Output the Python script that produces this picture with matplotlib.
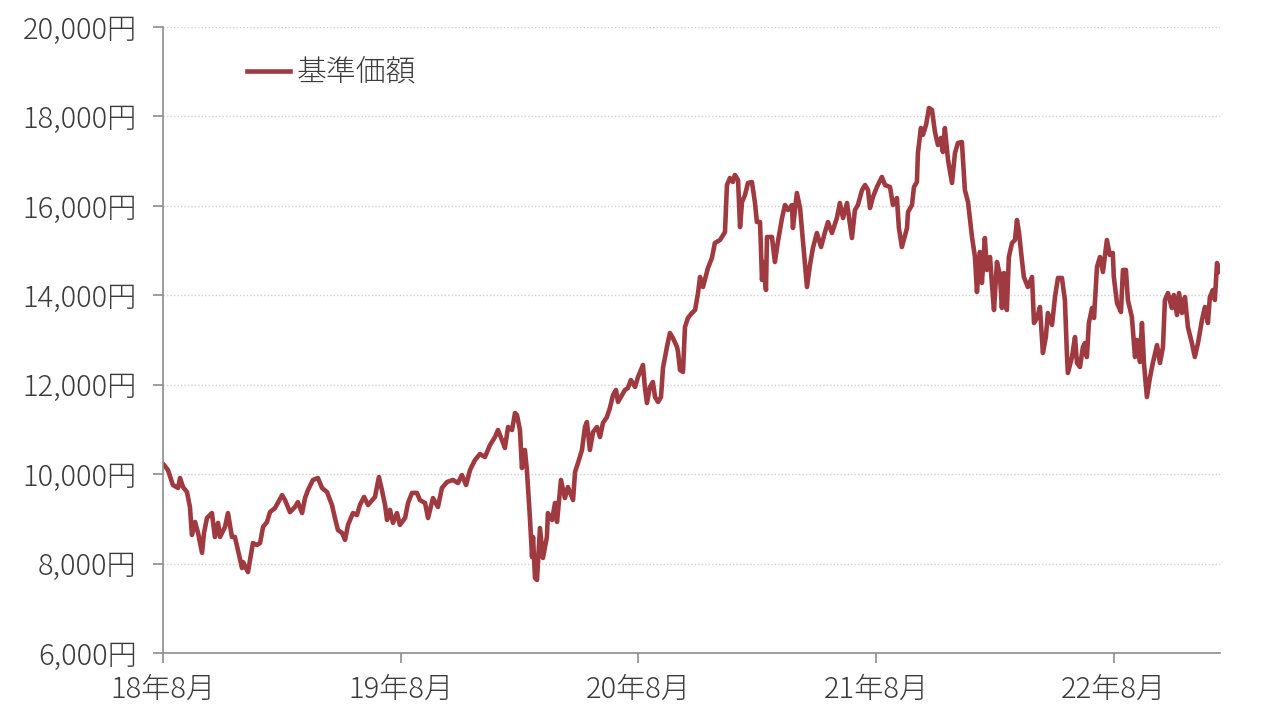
import matplotlib
matplotlib.use("Agg")
import matplotlib.pyplot as plt
from matplotlib.ticker import FuncFormatter

plt.rcParams['font.family'] = ['Noto Sans CJK JP', 'DejaVu Sans']
plt.rcParams['font.weight'] = 'light'

# months elapsed since 2018-08
months = [
    0.05, 0.25, 0.50, 0.76, 0.86, 1.01, 1.21, 1.36, 1.46, 1.62, 1.77, 1.97, 2.07, 2.22, 2.47,
    2.62, 2.78, 2.88, 3.13, 3.28, 3.48, 3.63, 3.99, 4.04, 4.29, 4.54, 4.74, 4.90, 5.05, 5.25,
    5.40, 5.65, 6.01, 6.16, 6.41, 6.66, 6.81, 7.02, 7.17, 7.32, 7.57, 7.82, 8.03, 8.28, 8.53,
    8.68, 8.83, 9.04, 9.19, 9.34, 9.59, 9.79, 9.94, 10.15, 10.35, 10.70, 10.90, 11.05, 11.21,
    11.31, 11.46, 11.61, 11.81, 11.96, 12.22, 12.37, 12.57, 12.82, 12.97, 13.23, 13.38, 13.63,
    13.88, 14.08, 14.34, 14.64, 14.89, 15.09, 15.30, 15.50, 15.75, 16.00, 16.25, 16.51, 16.76,
    16.91, 17.11, 17.26, 17.42, 17.62, 17.77, 17.87, 18.02, 18.12, 18.27, 18.37, 18.53, 18.63,
    18.68, 18.78, 18.88, 19.03, 19.18, 19.38, 19.43, 19.64, 19.79, 19.89, 20.09, 20.29, 20.44,
    20.70, 20.80, 20.95, 21.15, 21.30, 21.40, 21.55, 21.71, 21.91, 22.06, 22.21, 22.41, 22.56,
    22.72, 22.87, 22.97, 23.17, 23.32, 23.47, 23.62, 23.83, 23.98, 24.23, 24.33, 24.43, 24.58,
    24.73, 24.84, 24.99, 25.14, 25.24, 25.44, 25.59, 25.74, 25.95, 26.00, 26.10, 26.25, 26.35,
    26.50, 26.70, 26.86, 27.01, 27.11, 27.26, 27.51, 27.71, 27.86, 28.12, 28.37, 28.47, 28.62,
    28.77, 28.87, 29.03, 29.13, 29.23, 29.38, 29.53, 29.73, 29.88, 29.98, 30.14, 30.24, 30.29,
    30.44, 30.49, 30.74, 30.89, 31.04, 31.25, 31.40, 31.55, 31.75, 31.80, 32.00, 32.16, 32.31,
    32.51, 32.66, 32.81, 33.01, 33.22, 33.42, 33.57, 33.77, 34.02, 34.17, 34.33, 34.53, 34.78,
    34.93, 35.08, 35.29, 35.44, 35.59, 35.69, 35.84, 36.04, 36.29, 36.45, 36.70, 36.85, 37.05,
    37.15, 37.30, 37.56, 37.61, 37.81, 37.91, 38.06, 38.11, 38.26, 38.36, 38.52, 38.67, 38.82,
    38.97, 39.12, 39.27, 39.37, 39.47, 39.63, 39.83, 39.98, 40.13, 40.33, 40.48, 40.64, 40.84,
    40.99, 41.09, 41.24, 41.34, 41.49, 41.59, 41.75, 41.85, 41.95, 42.10, 42.25, 42.35, 42.45,
    42.60, 42.70, 42.86, 43.01, 43.11, 43.21, 43.36, 43.46, 43.66, 43.87, 43.97, 44.12, 44.27,
    44.42, 44.57, 44.67, 44.88, 45.03, 45.18, 45.38, 45.53, 45.63, 45.68, 45.89, 46.04, 46.14,
    46.29, 46.44, 46.54, 46.64, 46.74, 46.90, 47.00, 47.15, 47.30, 47.45, 47.65, 47.80, 47.95,
    48.00, 48.16, 48.36, 48.46, 48.61, 48.71, 48.91, 49.07, 49.17, 49.32, 49.42, 49.52, 49.67,
    49.82, 49.97, 50.18, 50.33, 50.48, 50.58, 50.73, 50.93, 51.03, 51.19, 51.29, 51.44, 51.59,
    51.74, 51.94, 52.09, 52.25, 52.45, 52.60, 52.75, 52.85, 53.00, 53.10, 53.21, 53.30,
]

# 基準価額 (円)
nav = [
    10205, 10093, 9757, 9690, 9914, 9713, 9600, 9265, 8640, 8930, 8685, 8240, 8685, 9020, 9130,
    8595, 8910, 8595, 8820, 9130, 8595, 8595, 7900, 8035, 7810, 8460, 8415, 8460, 8820, 8930,
    9150, 9240, 9530, 9420, 9150, 9265, 9375, 9130, 9465, 9645, 9870, 9914, 9690, 9600, 9310,
    9020, 8750, 8685, 8530, 8865, 9130, 9085, 9310, 9490, 9310, 9490, 9935, 9645, 9310,
    8975, 9200, 8910, 9130, 8865, 9020, 9355, 9580, 9580, 9420, 9355, 9020, 9465,
    9265, 9690, 9825, 9870, 9800, 9980, 9757, 10093, 10317, 10450, 10383, 10652, 10830,
    10987, 10764, 10585, 11054, 10987, 11367, 11323, 10987, 10137, 10540, 10093, 8975, 8147,
    8595, 7677, 7632, 8795, 8125, 8595, 9130, 8975, 9355, 8930, 9870, 9465, 9713,
    9420, 10048, 10250, 10540, 11054, 11166, 10540, 10943, 11054, 10830, 11144, 11278, 11479,
    11770, 11882, 11614, 11770, 11882, 11927, 12105, 11950, 12173, 12441, 11927, 11591, 11950,
    12061, 11725, 11614, 11725, 12374, 12844, 13157, 13045, 12844, 12732, 12329, 12285, 13291,
    13492, 13604, 13671, 14050, 14409, 14185, 14610, 14834, 15170, 15237, 15415, 16466, 16623,
    16534, 16690, 16579, 15527, 16086, 16243, 16511, 16534, 16086, 15639, 15639, 14342, 14745,
    14118, 15304, 15304, 14745, 15192, 15728, 16019, 15907, 16019, 15505, 16288, 15952, 15192,
    14185, 14677, 15058, 15393, 15080, 15415, 15639, 15393, 15728, 16064, 15728, 16064, 15281,
    15907, 16019, 16355, 16466, 16355, 15952, 16198, 16422, 16646, 16466, 16422, 16019, 16176,
    15505, 15080, 15505, 15863, 16019, 16422, 16534, 17182, 17741, 17585, 17808, 18189, 18144,
    17652, 17361, 17518, 17205, 17741, 17026, 16511, 17182, 17406, 17428, 16355, 16086, 15304,
    14856, 14074, 14968, 14275, 15281, 14566, 14856, 14230, 13671, 14745, 14454, 13716, 14498,
    13671, 14856, 15170, 15237, 15684, 15415, 14789, 14409, 14185, 14409, 13380, 13492, 13738,
    12709, 13067, 13604, 13336, 13962, 14387, 14387, 13895, 12709, 12262, 12620, 13067, 12486,
    12396, 12844, 12933, 12620, 13380, 13716, 13492, 14633, 14856, 14521, 15237, 14901, 14946,
    14409, 13827, 13626, 14566, 14566, 13895, 13515, 12620, 13000, 12508, 13380, 12486, 11725,
    12150, 12486, 12888, 12486, 12844, 13895, 14050, 13716, 14006, 13559, 14050, 13604, 13962,
    13291, 12933, 12620, 12933, 13447, 13738, 13380, 13962, 14118, 13895, 14722, 14521,
]

xtick_pos = [0, 12, 24, 36, 48]
xtick_labels = ['18年8月', '19年8月', '20年8月', '21年8月', '22年8月']
ytick_vals = [6000, 8000, 10000, 12000, 14000, 16000, 18000, 20000]
series_name = '基準価額'

line_color = '#9e3a40'
text_color = '#3c3c3c'
axis_color = '#8c8c8c'

fig = plt.figure(figsize=(12.8, 7.23), dpi=100)
ax = fig.add_axes([163 / 1280, 1 - 653 / 723, (1220 - 163) / 1280, (653 - 27) / 723])

ax.plot(months, nav, color=line_color, lw=3.3, solid_joinstyle='round', label=series_name)

ax.set_xlim(0, 53.36)
ax.set_ylim(6000, 20000)
ax.set_xticks(xtick_pos)
ax.set_xticklabels(xtick_labels)
ax.set_yticks(ytick_vals)
ax.yaxis.set_major_formatter(FuncFormatter(lambda v, p: f'{int(v):,}円'))

for s in ['top', 'right']:
    ax.spines[s].set_visible(False)
for s in ['left', 'bottom']:
    ax.spines[s].set_color(axis_color)
    ax.spines[s].set_linewidth(1.2)

ax.tick_params(axis='both', colors=axis_color, labelcolor=text_color, labelsize=21,
               length=7, width=1.2, direction='out')
ax.tick_params(axis='x', pad=8)
ax.tick_params(axis='y', pad=12)

ax.grid(axis='y', color='#d0d0d0', linestyle=(0, (1, 1.5)), linewidth=1.0)
ax.set_axisbelow(True)
for gl in ax.get_ygridlines()[:1]:
    gl.set_visible(False)

leg = ax.legend(loc='center left', bbox_to_anchor=((247 - 163) / 1057, (653 - 73) / 626),
                frameon=False, fontsize=21.5, handlelength=1.45, handletextpad=0.2,
                borderpad=0, borderaxespad=0)
for t in leg.get_texts():
    t.set_color(text_color)

fig.savefig('out.png', dpi=100, facecolor='white')
